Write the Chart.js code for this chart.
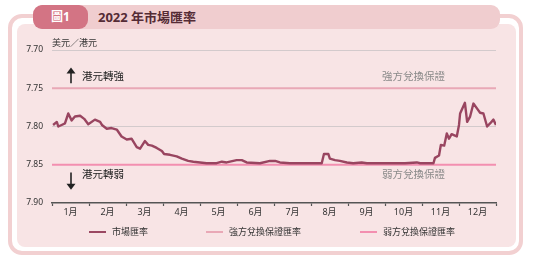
<!DOCTYPE html>
<html>
<head>
<meta charset="utf-8">
<script src="https://cdn.jsdelivr.net/npm/chart.js@4/dist/chart.umd.min.js"></script>
<style>
  body { margin: 0; width: 535px; height: 264px; background: #fff; overflow: hidden; position: relative;
         font-family: "Noto Sans", "Noto Sans CJK TC", sans-serif; }
  .frame { position: absolute; left: 8px; top: 14px; width: 515px; height: 241px; box-sizing: border-box;
           border: 4px solid #f2d0d1; border-radius: 14px; }
  .panel { position: absolute; left: 17px; top: 24px; width: 499px; height: 223px; background: #f8e4e5; border-radius: 8px; }
  .band { position: absolute; left: 40px; top: 5px; width: 460px; height: 24px; background: #f0cdcf; border-radius: 0 9px 9px 0; }
  .tab { position: absolute; left: 33px; top: 5px; width: 55px; height: 24px; background: #d37484; border-radius: 9px;
         color: #fff; font-weight: bold; font-size: 12px; line-height: 24px; text-align: center; }
  .title { position: absolute; left: 98px; top: 5px; line-height: 24px; font-size: 13px; font-weight: bold; color: #552b35; }
  #wrap { position: absolute; left: 17px; top: 24px; width: 499px; height: 223px; }
  .leg { position: absolute; top: 225px; height: 14px; font-size: 9px; line-height: 14px; color: #333; white-space: nowrap; }
  .leg i { display: inline-block; width: 17px; height: 2.5px; vertical-align: middle; margin-right: 6px; margin-top: -1px; }
</style>
</head>
<body>
<div class="frame"></div>
<div class="panel"></div>
<div class="band"></div>
<div class="tab">圖1</div>
<div class="title">2022 年市場匯率</div>
<div id="wrap"><canvas id="c"></canvas></div>
<div class="leg" style="left:89px"><i style="background:#9b4862"></i>市場匯率</div>
<div class="leg" style="left:206px"><i style="background:#e9a8b6"></i>強方兌換保證匯率</div>
<div class="leg" style="left:360px"><i style="background:#f38fb0"></i>弱方兌換保證匯率</div>
<script>
// months on the axis
const months = ['1月', '2月', '3月', '4月', '5月', '6月', '7月', '8月', '9月', '10月', '11月', '12月'];

// market rate (position in months since 1 Jan, HKD per USD)
const rateMonth = [0.03, 0.13, 0.17, 0.26, 0.35, 0.44, 0.53, 0.62, 0.76, 0.87, 0.98,
  1.16, 1.30, 1.35, 1.48, 1.61, 1.75, 1.88, 2.02, 2.15, 2.29, 2.38, 2.51, 2.60, 2.70,
  2.83, 2.97, 3.03, 3.19, 3.37, 3.51, 3.68, 3.82, 4.00, 4.18, 4.45, 4.59, 4.72, 4.99,
  5.13, 5.26, 5.62, 5.89, 6.03, 6.16, 6.43, 6.79, 7.06, 7.29, 7.35, 7.47, 7.51, 7.65,
  7.78, 7.97, 8.14, 8.37, 8.51, 8.78, 9.14, 9.54, 9.86, 9.95, 10.31, 10.35, 10.46,
  10.51, 10.60, 10.67, 10.73, 10.80, 10.94, 11.00, 11.03, 11.16, 11.22, 11.30, 11.39,
  11.48, 11.57, 11.66, 11.76, 11.84, 11.93, 12.00];
const rateValue = [7.798, 7.794, 7.800, 7.798, 7.796, 7.783, 7.792, 7.787, 7.786, 7.790, 7.797,
  7.791, 7.794, 7.798, 7.803, 7.802, 7.804, 7.813, 7.817, 7.816, 7.827, 7.829, 7.819, 7.824, 7.825,
  7.828, 7.832, 7.836, 7.837, 7.839, 7.842, 7.845, 7.846, 7.847, 7.848, 7.848, 7.846, 7.847, 7.844,
  7.844, 7.847, 7.848, 7.845, 7.845, 7.847, 7.848, 7.848, 7.848, 7.848, 7.836, 7.836, 7.842, 7.844,
  7.845, 7.847, 7.848, 7.847, 7.848, 7.848, 7.848, 7.848, 7.847, 7.848, 7.848, 7.841, 7.838,
  7.824, 7.825, 7.809, 7.816, 7.810, 7.813, 7.798, 7.783, 7.769, 7.794, 7.787, 7.770,
  7.776, 7.782, 7.783, 7.800, 7.796, 7.791, 7.798];

// convertibility undertakings
const strongSide = 7.75;
const weakSide = 7.85;

const yMin = 7.70;
const yMax = 7.90;

const cjk = '"Noto Sans", "Noto Sans CJK TC", sans-serif';

// arrows and side labels inside the plot
const notes = {
  id: 'notes',
  afterDatasetsDraw(chart) {
    const { ctx, chartArea, scales } = chart;
    const y = scales.y;
    const ax = chartArea.left + 19;
    ctx.save();
    ctx.fillStyle = '#222';
    ctx.strokeStyle = '#222';
    ctx.lineWidth = 1.6;

    // up arrow
    let tip = y.getPixelForValue(7.723), end = y.getPixelForValue(7.7434);
    ctx.beginPath(); ctx.moveTo(ax, tip + 4); ctx.lineTo(ax, end); ctx.stroke();
    ctx.beginPath(); ctx.moveTo(ax, tip); ctx.lineTo(ax - 4.5, tip + 6); ctx.lineTo(ax + 4.5, tip + 6); ctx.closePath(); ctx.fill();
    // down arrow
    tip = y.getPixelForValue(7.8826); end = y.getPixelForValue(7.86);
    ctx.beginPath(); ctx.moveTo(ax, end); ctx.lineTo(ax, tip - 4); ctx.stroke();
    ctx.beginPath(); ctx.moveTo(ax, tip); ctx.lineTo(ax - 4.5, tip - 6); ctx.lineTo(ax + 4.5, tip - 6); ctx.closePath(); ctx.fill();

    ctx.font = '10.5px ' + cjk;
    ctx.textBaseline = 'middle';
    ctx.fillText('港元轉強', chartArea.left + 30, y.getPixelForValue(7.735));
    ctx.fillText('港元轉弱', chartArea.left + 30, y.getPixelForValue(7.864));
    ctx.fillStyle = '#8a8a8a';
    ctx.fillText('強方兌換保證', chartArea.left + 330, y.getPixelForValue(7.735));
    ctx.fillText('弱方兌換保證', chartArea.left + 330, y.getPixelForValue(7.864));

    ctx.fillStyle = '#333';
    ctx.font = '9px ' + cjk;
    ctx.fillText('美元／港元', chartArea.left, chartArea.top - 7);
    ctx.restore();
  }
};

function flat(v) {
  return [{ x: 0, y: v }, { x: 12, y: v }];
}

new Chart(document.getElementById('c'), {
  type: 'line',
  data: {
    labels: months,
    datasets: [
      {
        label: '市場匯率',
        data: rateMonth.map((m, i) => ({ x: m, y: rateValue[i] })),
        xAxisID: 'xd',
        borderColor: '#994560',
        borderWidth: 2.4,
        borderJoinStyle: 'round',
        pointRadius: 0,
        tension: 0
      },
      {
        label: '強方兌換保證匯率',
        data: flat(strongSide),
        xAxisID: 'xd',
        borderColor: '#e9a8b6',
        borderWidth: 2,
        pointRadius: 0
      },
      {
        label: '弱方兌換保證匯率',
        data: flat(weakSide),
        xAxisID: 'xd',
        borderColor: '#f38fb0',
        borderWidth: 2.2,
        pointRadius: 0
      }
    ]
  },
  options: {
    responsive: true,
    maintainAspectRatio: false,
    animation: false,
    layout: { padding: { top: 26, right: 20, bottom: 24, left: 0 } },
    plugins: {
      legend: { display: false },
      tooltip: { enabled: false }
    },
    scales: {
      xd: {
        type: 'linear',
        display: false,
        min: 0,
        max: 12
      },
      x: {
        type: 'category',
        offset: true,
        grid: {
          offset: true,
          drawOnChartArea: false,
          drawTicks: true,
          tickLength: 3,
          tickColor: '#555',
          tickWidth: 1.2
        },
        border: { display: true, color: '#555', width: 1.5 },
        ticks: {
          color: '#333',
          padding: 1,
          maxRotation: 0,
          font: { family: cjk, size: 9 }
        },
        afterFit(scale) { scale.height = 20; }
      },
      y: {
        reverse: true,
        min: yMin,
        max: yMax,
        border: { display: false },
        grid: {
          drawTicks: false,
          lineWidth: 1,
          color(c) {
            const v = c.tick.value;
            if (Math.abs(v - 7.70) < 0.001 || Math.abs(v - 7.80) < 0.001) return '#d3cacc';
            return 'rgba(0,0,0,0)';
          }
        },
        ticks: {
          stepSize: 0.05,
          padding: 9,
          color: '#333',
          font: { family: cjk, size: 8.5 },
          callback: v => v.toFixed(2)
        },
        afterFit(scale) { scale.width = 35; }
      }
    }
  },
  plugins: [notes]
});
</script>
</body>
</html>
